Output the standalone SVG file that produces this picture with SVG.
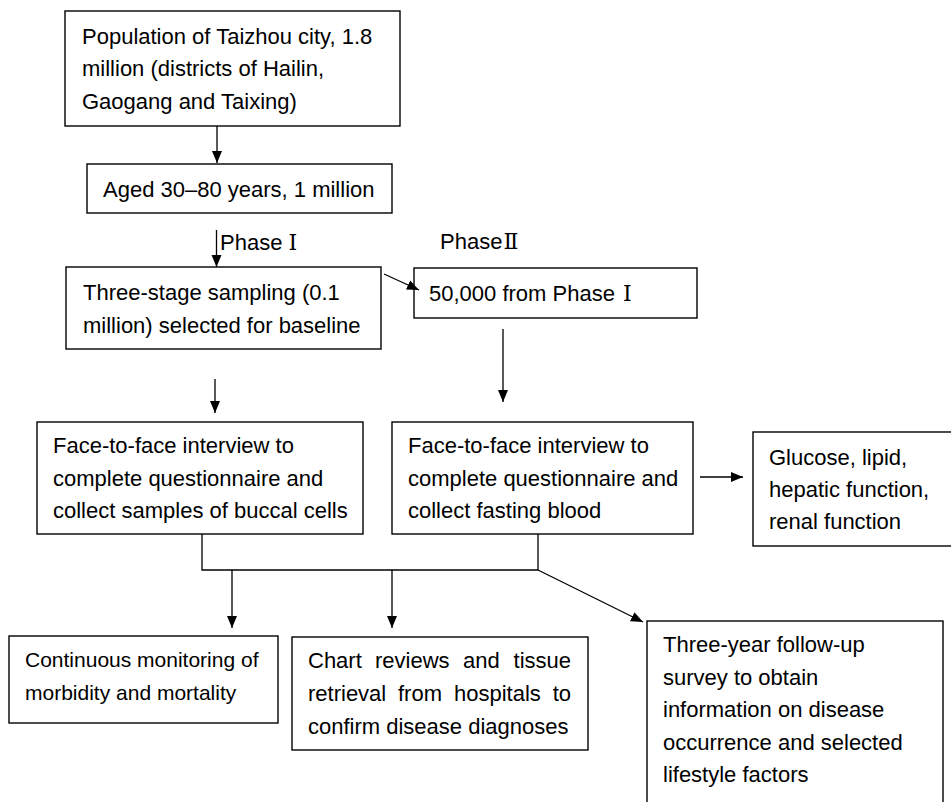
<svg xmlns="http://www.w3.org/2000/svg" width="951" height="802" viewBox="0 0 951 802">
<style>
.box{fill:#fff;stroke:#000;stroke-width:1.4}
.t{font-family:"Liberation Sans",Arial,"Noto Sans CJK SC",sans-serif;font-size:22px;fill:#000}
.s{font-size:21px}
.e{text-anchor:end}
.ln{stroke:#000;stroke-width:1.3;fill:none}
.num{font-family:"DejaVu Serif","Noto Serif CJK SC",serif}
</style>
<defs>
<marker id="ah" markerUnits="userSpaceOnUse" markerWidth="12" markerHeight="12" viewBox="0 0 12 12" refX="12" refY="6" orient="auto">
<path d="M0,1 L12,6 L0,11 Z" fill="#000"/>
</marker>
</defs>
<rect width="951" height="802" fill="#fff"/>
<g id="n1">
<rect class="box" x="65" y="11" width="335" height="115"/>
<text class="t" x="82" y="43.5">Population of Taizhou city, 1.8</text>
<text class="t" x="82" y="76">million (districts of Hailin,</text>
<text class="t" x="82" y="108.5">Gaogang and Taixing)</text>
</g>
<g id="n2">
<rect class="box" x="87" y="164" width="305" height="49"/>
<text class="t" x="103" y="197">Aged 30–80 years, 1 million</text>
</g>
<g id="n3">
<rect class="box" x="66" y="267" width="315" height="82"/>
<text class="t" x="83" y="300">Three-stage sampling (0.1</text>
<text class="t" x="83" y="333">million) selected for baseline</text>
</g>
<g id="n4">
<rect class="box" x="414" y="268" width="283" height="50"/>
<text class="t" x="429" y="301">50,000 from Phase <tspan class="num" dx="2">Ⅰ</tspan></text>
</g>
<g id="n5">
<rect class="box" x="37" y="422" width="326" height="112"/>
<text class="t" x="53" y="453">Face-to-face interview to</text>
<text class="t" x="53" y="486">complete questionnaire and</text>
<text class="t" x="53" y="518">collect samples of buccal cells</text>
</g>
<g id="n6">
<rect class="box" x="392" y="422" width="301" height="112"/>
<text class="t" x="408" y="453">Face-to-face interview to</text>
<text class="t" x="408" y="486">complete questionnaire and</text>
<text class="t" x="408" y="518">collect fasting blood</text>
</g>
<g id="n7">
<rect class="box" x="753" y="432" width="200" height="114"/>
<text class="t" x="769" y="465">Glucose, lipid,</text>
<text class="t" x="769" y="497">hepatic function,</text>
<text class="t" x="769" y="529">renal function</text>
</g>
<g id="n8">
<rect class="box" x="9" y="636" width="269" height="87"/>
<text class="t s" x="25" y="667">Continuous monitoring of</text>
<text class="t s" x="25" y="700">morbidity and mortality</text>
</g>
<g id="n9">
<rect class="box" x="292" y="637" width="296" height="113"/>
<text class="t" x="308" y="668">Chart</text>
<text class="t" x="375" y="668">reviews</text>
<text class="t" x="463" y="668">and</text>
<text class="t e" x="571" y="668">tissue</text>
<text class="t" x="308" y="701">retrieval</text>
<text class="t" x="398" y="701">from</text>
<text class="t" x="454" y="701">hospitals</text>
<text class="t e" x="571" y="701">to</text>
<text class="t" x="308" y="734">confirm disease diagnoses</text>
</g>
<g id="n10">
<rect class="box" x="647" y="621" width="296" height="200"/>
<text class="t" x="663" y="652">Three-year follow-up</text>
<text class="t" x="663" y="685">survey to obtain</text>
<text class="t" x="663" y="717">information on disease</text>
<text class="t" x="663" y="750">occurrence and selected</text>
<text class="t" x="663" y="782">lifestyle factors</text>
</g>
<g id="labels">
<text class="t" x="220" y="250">Phase <tspan class="num">Ⅰ</tspan></text>
<text class="t" x="440" y="249">Phase<tspan class="num" dx="1">Ⅱ</tspan></text>
</g>
<g id="connectors">
<line class="ln" x1="217" y1="126" x2="217" y2="163" marker-end="url(#ah)"/>
<line class="ln" x1="216.5" y1="230" x2="216.5" y2="267" marker-end="url(#ah)"/>
<line class="ln" x1="384" y1="274" x2="419" y2="290" marker-end="url(#ah)"/>
<line class="ln" x1="503" y1="329" x2="503" y2="402" marker-end="url(#ah)"/>
<line class="ln" x1="215" y1="379" x2="215" y2="413" marker-end="url(#ah)"/>
<line class="ln" x1="700" y1="477" x2="743" y2="477" marker-end="url(#ah)"/>
<polyline class="ln" points="202,534 202,570 538,570 538,534"/>
<line class="ln" x1="232" y1="570" x2="232" y2="628" marker-end="url(#ah)"/>
<line class="ln" x1="392" y1="570" x2="392" y2="628" marker-end="url(#ah)"/>
<line class="ln" x1="538" y1="570" x2="643" y2="622" marker-end="url(#ah)"/>
</g>
</svg>
